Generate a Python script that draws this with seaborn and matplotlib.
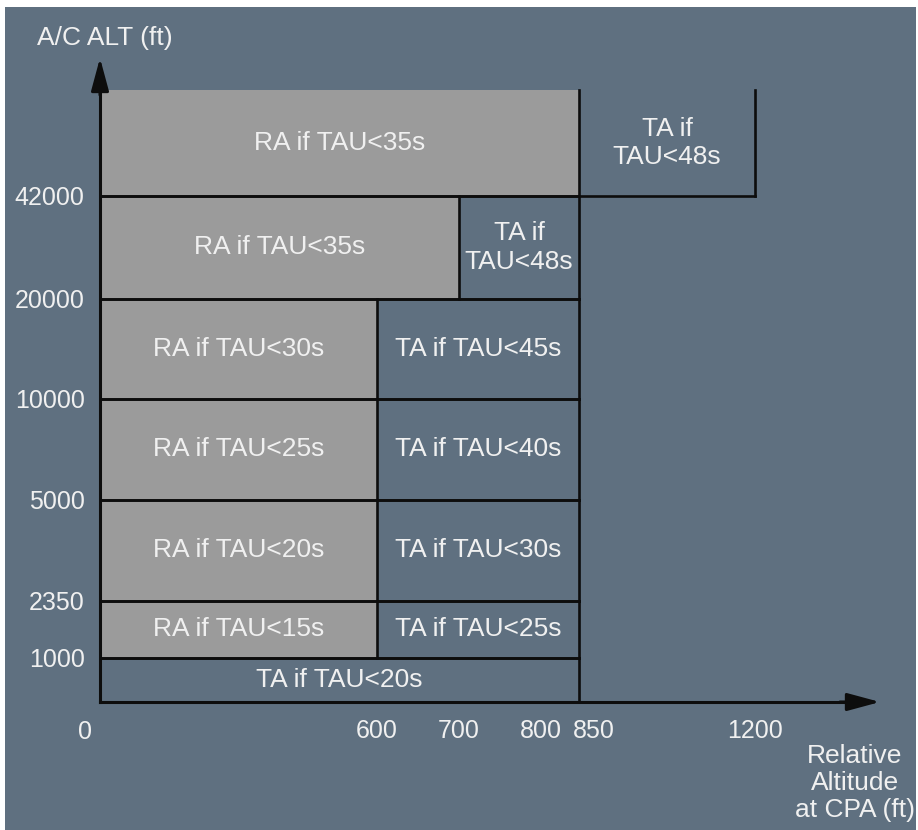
"""
TCAS sensitivity-level chart: RA / TA thresholds by altitude band.
"""
import matplotlib
matplotlib.use("Agg")
import matplotlib.pyplot as plt
import matplotlib.transforms as mtransforms
import numpy as np
import seaborn as sns

# altitude band edges (ft); the last one is the schematic top of the chart
alt_edges = [0, 1000, 2350, 5000, 10000, 20000, 42000, 60000]
# right edge of the RA box in each band (None = no RA box)
ra_right = [None, 600, 600, 600, 600, 700, 850]
ra_labels = ["", "RA if TAU<15s", "RA if TAU<20s", "RA if TAU<25s",
             "RA if TAU<30s", "RA if TAU<35s", "RA if TAU<35s"]
# right edge of the TA box in each band
ta_right = [850, 850, 850, 850, 850, 850, 1200]
ta_labels = ["TA if TAU<20s", "TA if TAU<25s", "TA if TAU<30s",
             "TA if TAU<40s", "TA if TAU<45s", "TA if\nTAU<48s",
             "TA if\nTAU<48s"]

y_ticks = [1000, 2350, 5000, 10000, 20000, 42000]
y_tick_labels = ["1000", "2350", "5000", "10000", "20000", "42000"]
x_ticks = [600, 700, 800, 850, 1200]
x_tick_labels = ["600", "700", "800", "850", "1200"]

BG = "#5f7080"
GRAY = "#9b9b9b"
TXT = "#f0f0f0"
LINE = "#0d0d0d"
LW = 1.9
FS = 19

W, H = 918, 830

# schematic (piecewise-linear) scales: value -> pixel position
XV = [-5000, 0, 600, 700, 800, 850, 1200, 6000]
XP = [-2200, 100, 377, 459, 542, 579, 755, 3170]
YV = [-50000, 0, 1000, 2350, 5000, 10000, 20000, 42000, 60000, 400000]
YP = [-2900, -702, -658, -601, -500, -399, -299, -196, -90, 1900]


def fx(v):
    return np.interp(v, XV, XP)


def ix(p):
    return np.interp(p, XP, XV)


def fy(v):
    return np.interp(v, YV, YP)


def iy(p):
    return np.interp(p, YP, YV)


sns.set_theme(style="white")
plt.rcParams["font.family"] = ["Liberation Sans", "DejaVu Sans"]

fig = plt.figure(figsize=(W / 100, H / 100), dpi=100, facecolor="white")
ax = fig.add_axes([5 / W, 0, 911 / W, 823 / H])
ax.set_facecolor(BG)
ax.set_xscale("function", functions=(fx, ix))
ax.set_yscale("function", functions=(fy, iy))
ax.set_xlim(ix(5), ix(916))
ax.set_ylim(iy(-830), iy(-7))

bottoms = np.array(alt_edges[:-1], dtype=float)
tops = np.array(alt_edges[1:], dtype=float)
ra_r = np.array([r if r is not None else 0 for r in ra_right], dtype=float)
ta_l = ra_r.copy()
ta_r = np.array(ta_right, dtype=float)
has_ra = ra_r > 0

# boxes
ax.bar(ta_l, tops - bottoms, width=ta_r - ta_l, bottom=bottoms, align="edge",
       color=BG, linewidth=0, zorder=1)
ax.bar(np.zeros(has_ra.sum()), (tops - bottoms)[has_ra], width=ra_r[has_ra],
       bottom=bottoms[has_ra], align="edge", color=GRAY, linewidth=0, zorder=1)

# box borders
ax.hlines(bottoms[1:], 0, ta_r[1:], color=LINE, lw=LW, zorder=3,
          capstyle="projecting")
ax.hlines(tops[:-1], 0, ta_r[:-1], color=LINE, lw=LW, zorder=3,
          capstyle="projecting")
ax.vlines(ra_r[has_ra], bottoms[has_ra], tops[has_ra], color=LINE, lw=LW,
          zorder=3, capstyle="projecting")
ax.vlines(ta_r, bottoms, tops, color=LINE, lw=LW, zorder=3,
          capstyle="projecting")


def mid_x(a, b):
    return ix((fx(a) + fx(b)) / 2)


def mid_y(a, b):
    return iy((fy(a) + fy(b)) / 2)


for i in range(len(bottoms)):
    cy = mid_y(bottoms[i], tops[i])
    if has_ra[i]:
        ax.text(mid_x(0, ra_r[i]), cy, ra_labels[i], ha="center",
                va="center", color=TXT, fontsize=FS, zorder=4)
    ax.text(mid_x(ta_l[i], ta_r[i]), cy, ta_labels[i], ha="center",
            va="center", color=TXT, fontsize=FS, zorder=4, linespacing=1.25)

# axes through the origin
for side in ["top", "right"]:
    ax.spines[side].set_visible(False)
ax.spines["left"].set_position(("data", 0))
ax.spines["bottom"].set_position(("data", 0))
ax.spines["left"].set_bounds(0, iy(-75))
ax.spines["bottom"].set_bounds(0, ix(860))
for side in ["left", "bottom"]:
    ax.spines[side].set_color(LINE)
    ax.spines[side].set_linewidth(LW + 0.3)
    ax.spines[side].set_zorder(5)

ax.set_yticks(y_ticks, y_tick_labels)
ax.set_xticks(x_ticks, x_tick_labels)
ax.minorticks_off()
ax.tick_params(axis="both", direction="out", length=7, width=LW + 0.3,
               color=LINE, labelcolor=TXT, labelsize=18)
ax.tick_params(axis="y", pad=4)
ax.tick_params(axis="x", pad=5)

# 800 and 850 sit close together: nudge their labels apart
nudges = {"800": -1, "850": 15}
for lab in ax.get_xticklabels():
    dx = nudges.get(lab.get_text(), 0)
    if dx:
        lab.set_transform(lab.get_transform() + mtransforms.ScaledTranslation(
            dx / 100, 0, fig.dpi_scale_trans))

# arrow heads
arrow = dict(arrowstyle="-|>,head_length=1.0,head_width=0.27",
             mutation_scale=20, color=LINE, lw=LW + 0.3, shrinkA=0, shrinkB=0)
ax.annotate("", xy=(0, iy(-58)), xytext=(0, iy(-95)), arrowprops=arrow,
            zorder=6)
ax.annotate("", xy=(ix(880), 0), xytext=(ix(840), 0), arrowprops=arrow,
            zorder=6)

# axis titles and origin label
fig.text(37 / W, 1 - 38 / H, "A/C ALT (ft)", ha="left", va="center",
         color=TXT, fontsize=FS)
fig.text(85 / W, 1 - 732 / H, "0", ha="center", va="center", color=TXT,
         fontsize=18)
fig.text(855 / W, 1 - 783 / H, "Relative\nAltitude\nat CPA (ft)",
         ha="center", va="center", color=TXT, fontsize=FS, linespacing=1.15)

fig.savefig("out.png", dpi=100, facecolor="white")
